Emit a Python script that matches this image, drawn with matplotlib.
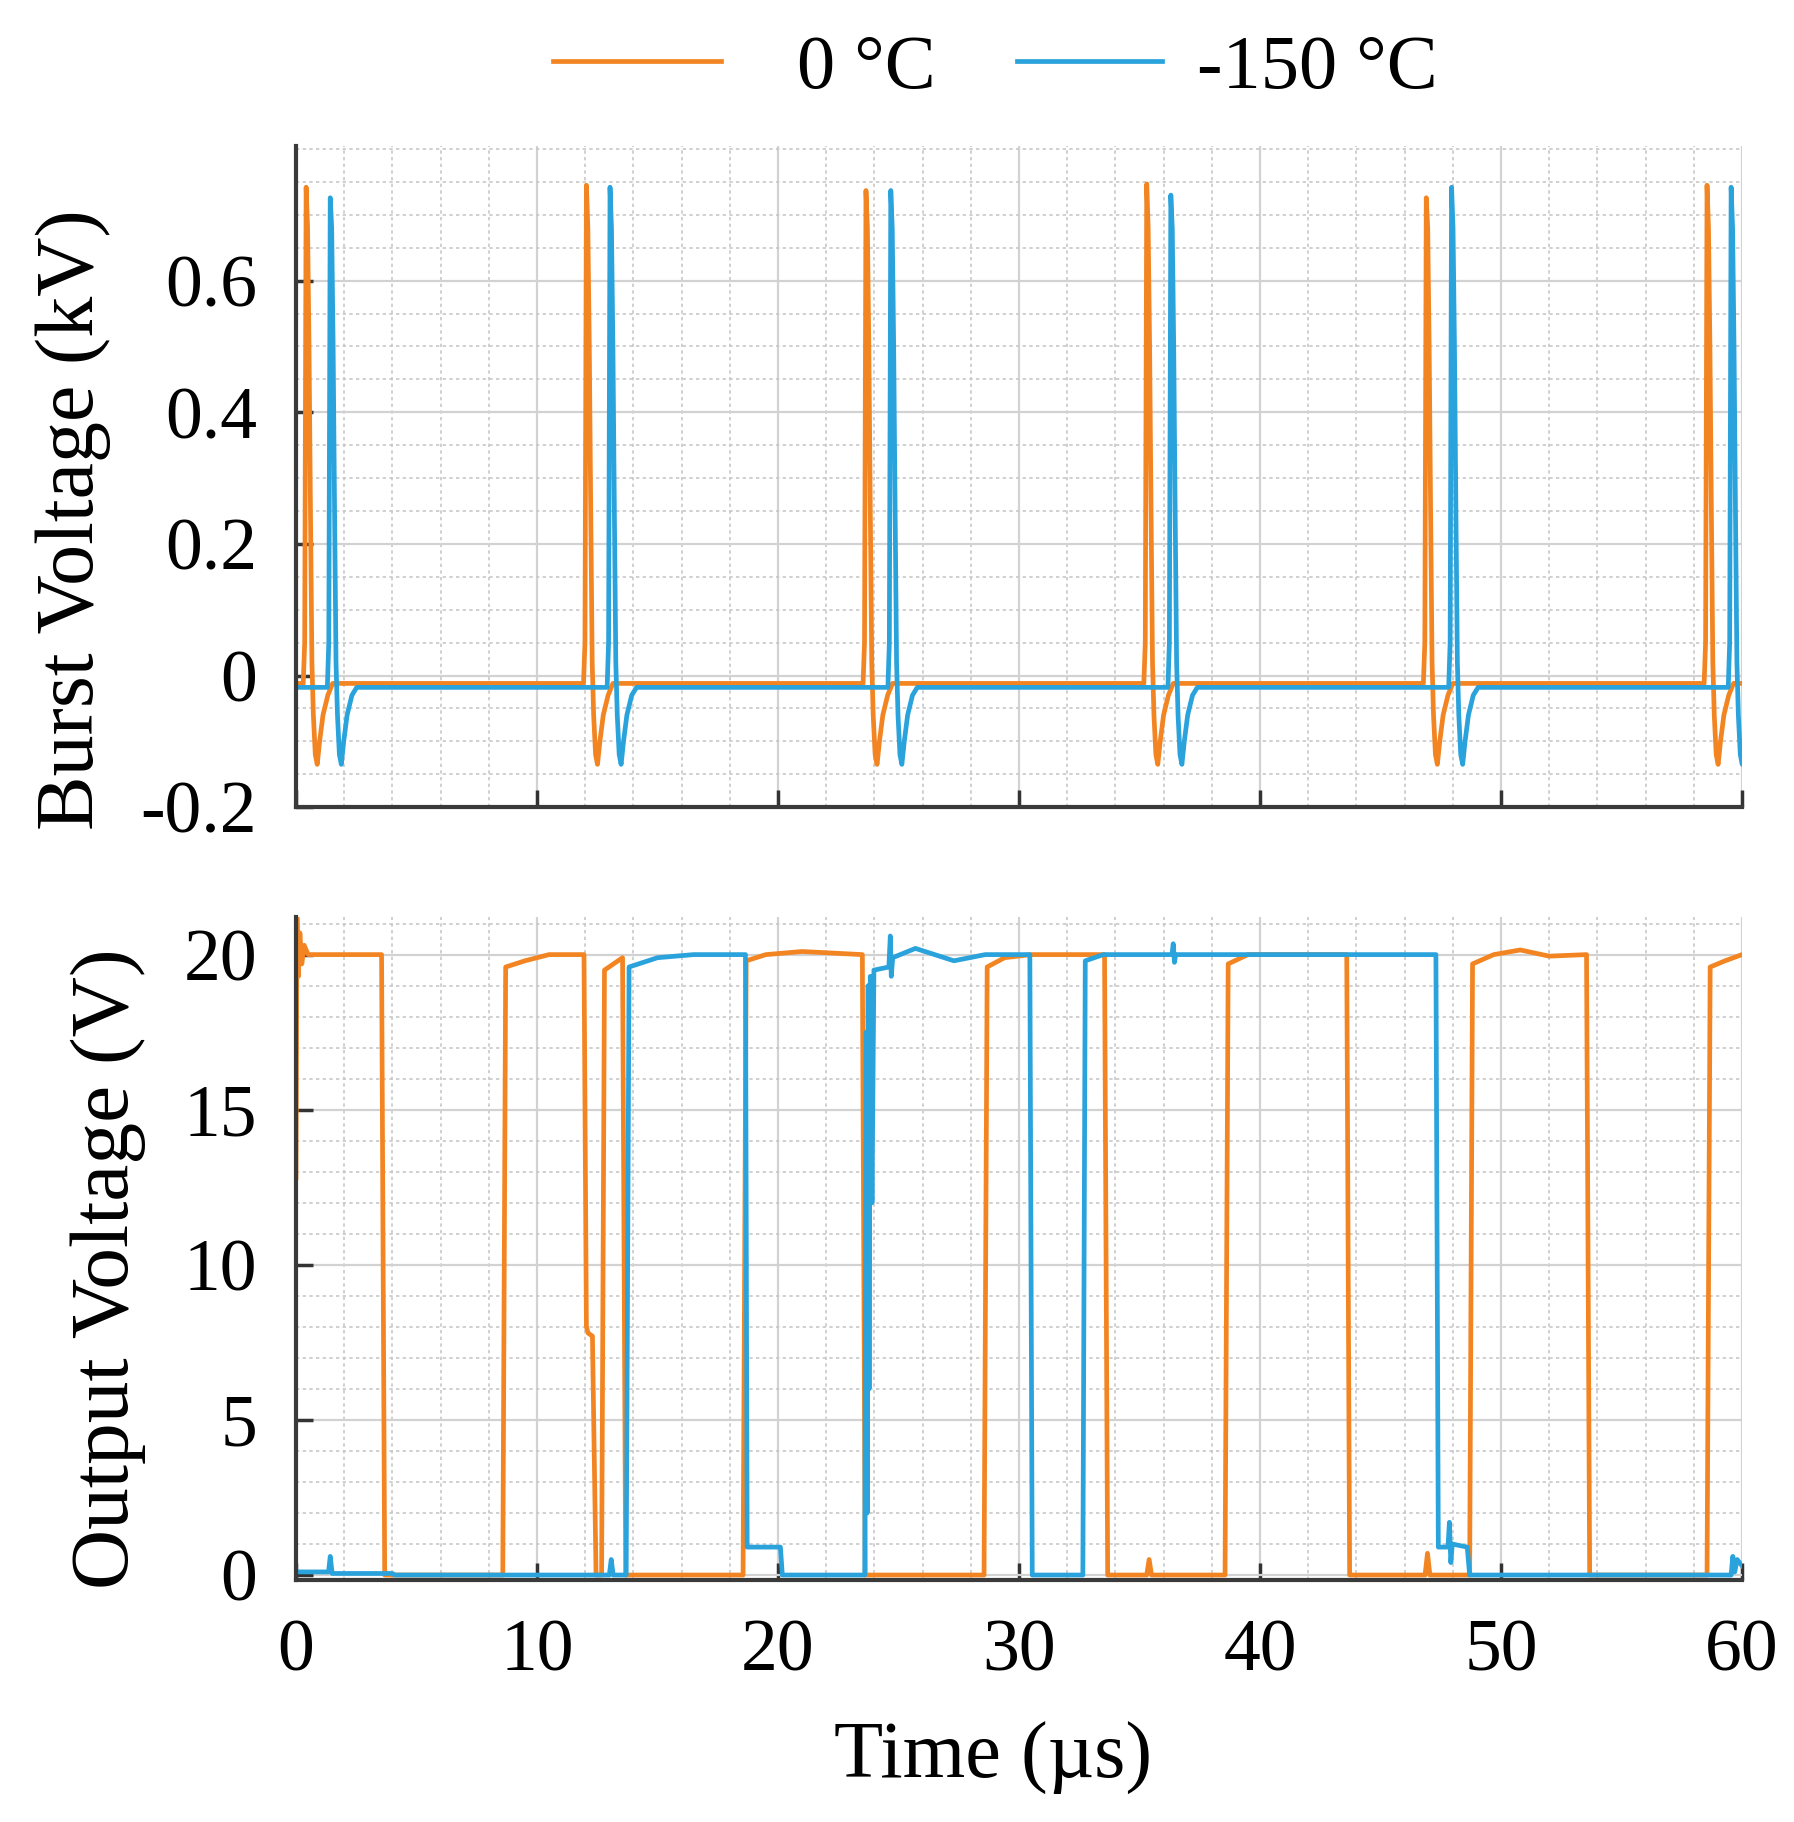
import numpy as np
import matplotlib
matplotlib.use('Agg')
import matplotlib.pyplot as plt
from matplotlib.ticker import MultipleLocator
from matplotlib.lines import Line2D

plt.rcParams['font.family'] = ['Liberation Serif', 'DejaVu Serif']

c_warm = '#F28522'
c_cold = '#2AA2DC'
labels = ['0 °C', '-150 °C']

# burst voltage (kV): peak times (us) and peak heights
peak_t_warm = [0.42, 12.05, 23.65, 35.30, 46.90, 58.55]
peak_v_warm = [0.742, 0.745, 0.737, 0.747, 0.726, 0.745]
peak_t_cold = [1.42, 13.03, 24.68, 36.30, 47.95, 59.55]
peak_v_cold = [0.726, 0.742, 0.737, 0.730, 0.742, 0.742]
base_warm = -0.012
base_cold = -0.018
# one pulse, times relative to the peak (us), kV
pulse_dt = [-0.12, -0.06, 0.0, 0.06, 0.12, 0.18, 0.24, 0.30, 0.38, 0.46, 0.56, 0.70, 0.90, 1.10]
pulse_v = [None, 0.05, 'peak', 0.68, 0.50, 0.25, 0.02, -0.06, -0.12, -0.135, -0.10, -0.06, -0.03, None]

# output voltage (V): breakpoints of each trace
out_t_warm = [0.0, 0.04, 0.10, 0.16, 0.24, 0.34, 0.5, 3.55, 3.68, 8.58, 8.70, 9.5, 10.5, 11.95,
              12.05, 12.12, 12.30, 12.45, 12.68, 12.80, 13.55, 13.68, 18.55, 18.68, 19.5, 21.0,
              23.5, 23.62, 28.55, 28.68, 29.4, 30.5, 33.55, 33.68, 35.3, 35.4, 35.5, 38.55,
              38.68, 39.5, 43.6, 43.72, 46.85, 46.95, 47.05, 48.7, 48.82, 49.7, 50.8, 52.0,
              53.55, 53.68, 58.55, 58.68, 59.3, 60.0]
out_v_warm = [12.8, 21.2, 19.3, 20.7, 19.7, 20.3, 20.0, 20.0, 0.0, 0.0, 19.6, 19.8, 20.0, 20.0,
              8.0, 7.8, 7.7, 0.0, 0.0, 19.5, 19.9, 0.0, 0.0, 19.8, 20.0, 20.1,
              20.0, 0.0, 0.0, 19.6, 19.9, 20.0, 20.0, 0.0, 0.0, 0.5, 0.0, 0.0,
              19.7, 20.0, 20.0, 0.0, 0.0, 0.7, 0.0, 0.0, 19.7, 20.0, 20.15, 19.95,
              20.0, 0.0, 0.0, 19.6, 19.8, 20.0]
out_t_cold = [0.0, 1.35, 1.42, 1.5, 4.0, 4.1, 13.0, 13.08, 13.16, 13.7, 13.82, 15.0, 16.5,
              18.65, 18.72, 20.1, 20.18, 23.6, 23.66, 23.70, 23.74, 23.78, 23.83, 23.90, 23.98,
              24.6, 24.66, 24.70, 24.76, 25.7, 27.3, 28.6, 30.45, 30.55, 32.65, 32.75, 33.5,
              36.35, 36.4, 36.45, 36.5, 47.3, 47.4, 47.8, 47.86, 47.92, 47.98, 48.6, 48.7,
              59.55, 59.62, 59.7, 59.8, 60.0]
out_v_cold = [0.1, 0.1, 0.6, 0.05, 0.05, 0.0, 0.0, 0.5, 0.0, 0.0, 19.6, 19.9, 20.0,
              20.0, 0.9, 0.9, 0.0, 0.0, 17.5, 2.0, 19.0, 6.0, 19.3, 12.0, 19.5,
              19.6, 20.6, 19.3, 19.9, 20.2, 19.8, 20.0, 20.0, 0.0, 0.0, 19.8, 20.0,
              20.0, 20.35, 19.75, 20.0, 20.0, 0.9, 0.9, 1.7, 0.4, 1.0, 0.9, 0.0,
              0.0, 0.6, 0.1, 0.5, 0.3]

x_ticks = [0, 10, 20, 30, 40, 50, 60]


def burst_trace(peaks, heights, base):
    t = [0.0]
    v = [base]
    for tp, h in zip(peaks, heights):
        for dt, pv in zip(pulse_dt, pulse_v):
            t.append(tp + dt)
            if pv is None:
                v.append(base)
            elif pv == 'peak':
                v.append(h)
            else:
                v.append(pv)
    t.append(61.0)
    v.append(base)
    return np.array(t), np.array(v)


def style_axes(ax):
    for s in ['top', 'right']:
        ax.spines[s].set_visible(False)
    for s in ['left', 'bottom']:
        ax.spines[s].set_linewidth(3)
        ax.spines[s].set_color('#3a3a3a')
    ax.set_xlim(0, 60)
    ax.set_xticks(x_ticks)
    ax.xaxis.set_minor_locator(MultipleLocator(2))
    ax.tick_params(which='major', direction='in', length=12, width=2.5, color='#333333',
                   labelsize=53, pad=28)
    ax.tick_params(which='minor', length=0)
    ax.grid(which='major', color='#d2d2d2', lw=1.6, ls='-')
    ax.grid(which='minor', color='#c8c8c8', lw=1.2, ls=(0, (2, 2)))
    ax.set_axisbelow(True)


fig = plt.figure(figsize=(17.94, 18.22), dpi=100)
ax1 = fig.add_axes([0.165, 0.557, 0.806, 0.363])
ax2 = fig.add_axes([0.165, 0.133, 0.806, 0.3635])

lw = 3.4
tw, vw = burst_trace(peak_t_warm, peak_v_warm, base_warm)
tc, vc = burst_trace(peak_t_cold, peak_v_cold, base_cold)
ax1.plot(tw, vw, color=c_warm, lw=lw)
ax1.plot(tc, vc, color=c_cold, lw=lw)
style_axes(ax1)
ax1.set_ylim(-0.2, 0.805)
ax1.set_yticks([-0.2, 0, 0.2, 0.4, 0.6])
ax1.set_yticklabels(['-0.2', '0', '0.2', '0.4', '0.6'])
ax1.yaxis.set_minor_locator(MultipleLocator(0.05))
ax1.set_xticklabels([])
ax1.set_ylabel('Burst Voltage (kV)', fontsize=59)
ax1.yaxis.set_label_coords(-0.128, 0.435)

ax2.plot(out_t_warm, out_v_warm, color=c_warm, lw=lw)
ax2.plot(out_t_cold, out_v_cold, color=c_cold, lw=lw)
style_axes(ax2)
ax2.set_ylim(-0.15, 21.2)
ax2.set_yticks([0, 5, 10, 15, 20])
ax2.yaxis.set_minor_locator(MultipleLocator(1))
ax2.set_ylabel('Output Voltage (V)', fontsize=60)
ax2.yaxis.set_label_coords(-0.104, 0.47)
ax2.set_xlabel('Time (µs)', fontsize=58)
ax2.xaxis.set_label_coords(0.482, -0.215)

# two single-entry legends so each entry can keep its own spacing
h_warm = Line2D([], [], color=c_warm, lw=lw)
h_cold = Line2D([], [], color=c_cold, lw=lw)
fig.legend([h_warm], [labels[0]], loc='center left', bbox_to_anchor=(0.308, 0.962),
           frameon=False, fontsize=55, handlelength=2.2, handletextpad=1.0,
           borderpad=0, borderaxespad=0)
fig.legend([h_cold], [labels[1]], loc='center left', bbox_to_anchor=(0.567, 0.962),
           frameon=False, fontsize=55, handlelength=1.9, handletextpad=0.45,
           borderpad=0, borderaxespad=0)

fig.savefig('out.png', dpi=100)
